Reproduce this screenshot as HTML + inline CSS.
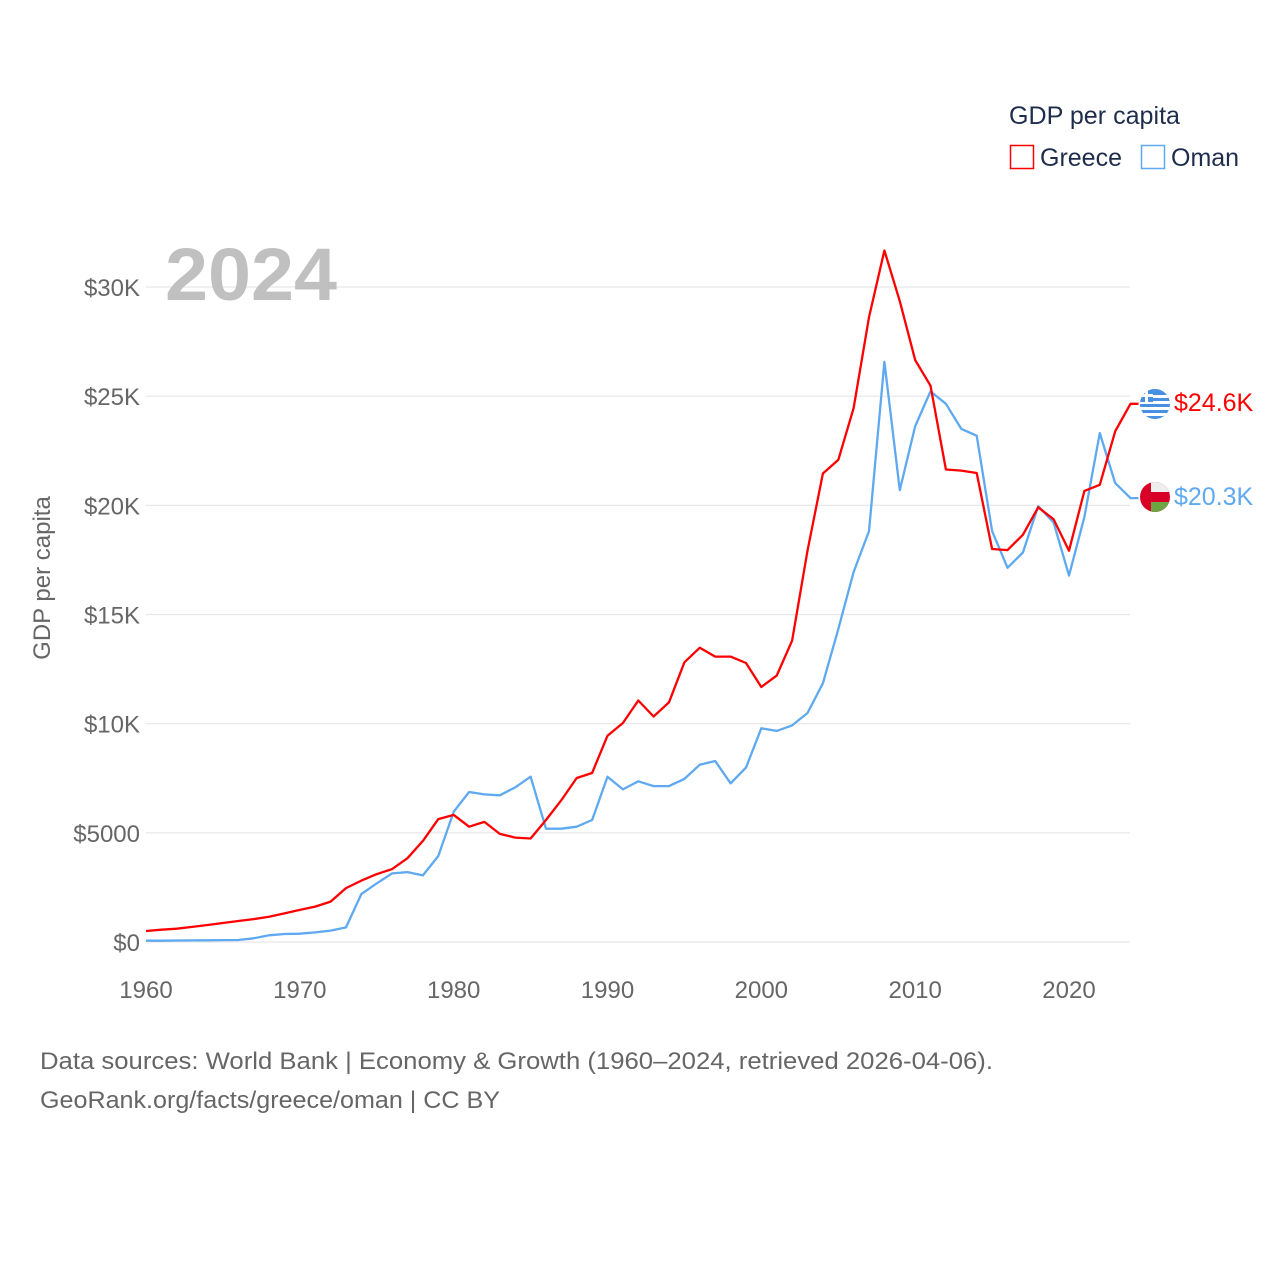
<!DOCTYPE html>
<html><head><meta charset="utf-8"><style>
html,body{margin:0;padding:0;background:#fff;}
svg text{font-family:"Liberation Sans",sans-serif;}
</style></head><body>
<svg id="chart" width="1280" height="1280" viewBox="0 0 1280 1280" xmlns="http://www.w3.org/2000/svg">
<defs>
<clipPath id="cg"><circle cx="1155" cy="404" r="15"/></clipPath>
<clipPath id="co"><circle cx="1155" cy="497" r="15"/></clipPath>
</defs>
<g id="grid"></g>
<g id="yticks"></g>
<g id="xticks"></g>
<text x="165" y="300" font-size="74" font-weight="bold" fill="#c0c0c0" textLength="172" lengthAdjust="spacingAndGlyphs">2024</text>
<text transform="translate(50,578) rotate(-90)" text-anchor="middle" font-size="24" fill="#666">GDP per capita</text>
<g id="series"></g>
<g>
<text x="1009" y="124" font-size="25" fill="#1f2d4d" textLength="171" lengthAdjust="spacingAndGlyphs">GDP per capita</text>
<g><rect x="1010.5" y="145.5" width="23" height="23" fill="none" stroke="#ff0000" stroke-width="1.5"/><text x="1040" y="166" font-size="25" fill="#1f2d4d">Greece</text></g>
<g><rect x="1141.5" y="145.5" width="23" height="23" fill="none" stroke="#5ea9f0" stroke-width="1.5"/><text x="1171" y="166" font-size="25" fill="#1f2d4d">Oman</text></g>
</g>
<g clip-path="url(#cg)">
<rect x="1140" y="389" width="30" height="30" fill="#4a90e2"/>
<rect x="1140" y="395" width="30" height="3" fill="#fff"/><rect x="1140" y="401" width="30" height="3" fill="#fff"/><rect x="1140" y="407" width="30" height="3" fill="#fff"/><rect x="1140" y="413" width="30" height="3" fill="#fff"/>
<rect x="1140" y="389" width="13" height="13" fill="#4a90e2"/><rect x="1145" y="389" width="3" height="13" fill="#fff"/><rect x="1140" y="394" width="13" height="3" fill="#fff"/>
</g>
<g clip-path="url(#co)">
<rect x="1140" y="482" width="30" height="30" fill="#d80027"/>
<rect x="1151" y="482" width="19" height="10" fill="#eee"/>
<rect x="1151" y="502" width="19" height="10" fill="#6da544"/>
</g>
<text x="1174" y="411" font-size="25" fill="#ff0000">$24.6K</text>
<text x="1174" y="505" font-size="25" fill="#5ea9f0">$20.3K</text>
<text x="40" y="1069" font-size="24" fill="#666" textLength="953" lengthAdjust="spacingAndGlyphs">Data sources: World Bank | Economy &amp; Growth (1960–2024, retrieved 2026-04-06).</text>
<text x="40" y="1108" font-size="24" fill="#666" textLength="460" lengthAdjust="spacingAndGlyphs">GeoRank.org/facts/greece/oman | CC BY</text>
</svg>
<script>
const years = [];
for (let y = 1960; y <= 2024; y++) years.push(y);
const greece = [504,565,610,690,780,870,960,1050,1160,1310,1470,1620,1850,2470,2810,3110,3340,3840,4630,5630,5820,5280,5500,4950,4780,4740,5590,6500,7510,7740,9450,10030,11060,10330,10980,12810,13480,13070,13070,12780,11680,12200,13800,17920,21460,22080,24450,28610,31670,29350,26650,25480,21640,21590,21480,18000,17950,18650,19910,19360,17920,20660,20940,23390,24650];
const oman = [60,60,70,75,80,85,90,170,305,365,380,440,520,670,2200,2690,3140,3200,3050,3940,5970,6870,6760,6720,7080,7570,5190,5190,5280,5590,7570,6990,7360,7140,7140,7470,8120,8290,7270,7990,9790,9670,9920,10490,11850,14330,16940,18820,26570,20700,23630,25220,24650,23500,23190,18820,17140,17840,19960,19220,16780,19470,23310,21020,20330];
const yTicks = [0,5000,10000,15000,20000,25000,30000];
const yTickLabels = ["$0","$5000","$10K","$15K","$20K","$25K","$30K"];
const xTicks = [1960,1970,1980,1990,2000,2010,2020];

const NS = "http://www.w3.org/2000/svg";
const xs = yr => 146 + (yr - 1960) * (1069 - 146) / 60;
const ys = v => 942 - v * (942 - 287) / 30000;
function mk(tag, attrs, parent) {
  const e = document.createElementNS(NS, tag);
  for (const k in attrs) e.setAttribute(k, attrs[k]);
  parent.appendChild(e);
  return e;
}
const grid = document.getElementById('grid');
const yt = document.getElementById('yticks');
yTicks.forEach((v, i) => {
  const l = mk('line', {x1: 146, x2: 1130, y1: ys(v), y2: ys(v), stroke: '#e6e6e6', 'stroke-width': 1.2}, grid);
  
  
  const t = mk('text', {x: 140, y: ys(v) + 9, 'text-anchor': 'end', 'font-size': 24, fill: '#666'}, yt);
  t.textContent = yTickLabels[i];
  
  
});
const xt = document.getElementById('xticks');
xTicks.forEach(yr => {
  const t = mk('text', {x: xs(yr), y: 998, 'text-anchor': 'middle', 'font-size': 24, fill: '#666'}, xt);
  t.textContent = yr;
  
  
});
const ser = document.getElementById('series');
function line(vals, color, name) {
  let d = vals.map((v, i) => (i ? 'L' : 'M') + xs(years[i]).toFixed(1) + ',' + ys(v).toFixed(1)).join('');
  d += 'L' + (xs(years[years.length - 1]) + 8).toFixed(1) + ',' + ys(vals[vals.length - 1]).toFixed(1);
  const p = mk('path', {d: d, fill: 'none', stroke: color, 'stroke-width': 2.3, 'stroke-linejoin': 'round'}, ser);
  
  
}
line(oman, '#5ea9f0', 'oman-line');
line(greece, '#ff0000', 'greece-line');
</script>
</body></html>
